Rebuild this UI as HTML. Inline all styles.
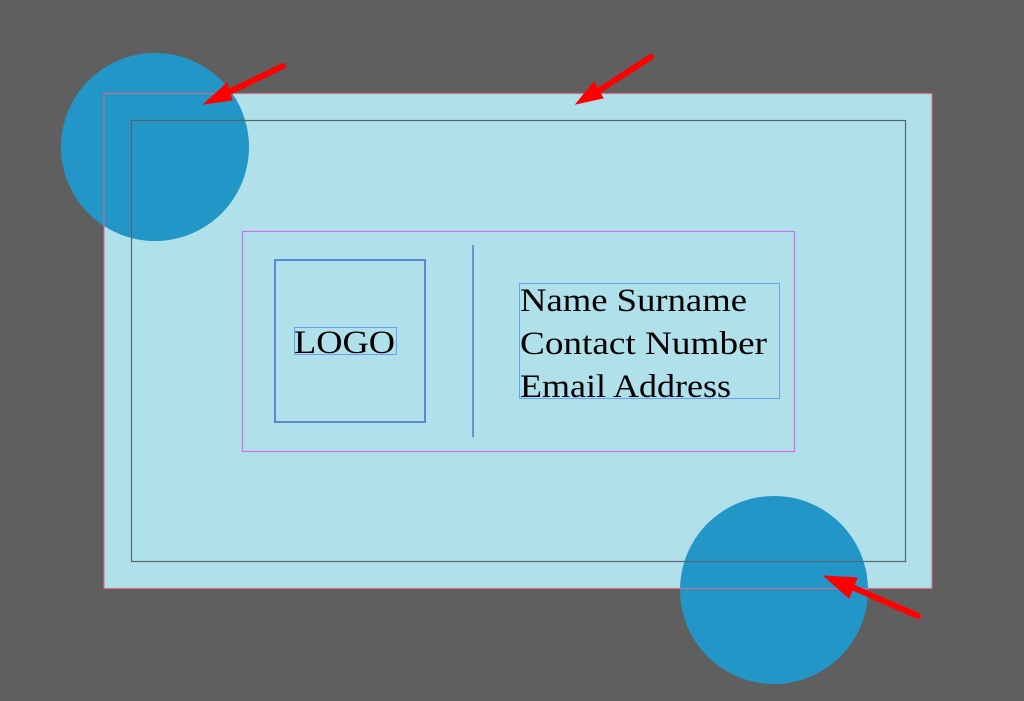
<!DOCTYPE html>
<html><head><meta charset="utf-8"><style>
html,body{margin:0;padding:0;background:#5f5f5f;}
svg{display:block}
text{font-family:"Liberation Serif",serif;fill:#000}
</style></head><body>
<svg width="1024" height="701" viewBox="0 0 1024 701" xmlns="http://www.w3.org/2000/svg">
<rect width="1024" height="701" fill="#5f5f5f"/>
<rect x="104" y="93.5" width="828" height="495" fill="#b0e0ea"/>
<circle cx="155" cy="147" r="94" fill="#2396c8"/>
<circle cx="774" cy="590" r="94" fill="#2396c8"/>
<rect x="104" y="93.5" width="828" height="495" fill="none" stroke="#d86a86" stroke-width="1.2" opacity="0.9"/>
<rect x="131.5" y="120.5" width="774" height="441" fill="none" stroke="#55666a" stroke-width="1.2"/>
<rect x="242.5" y="231.5" width="552" height="220" fill="none" stroke="#d070f0" stroke-width="1.2"/>
<rect x="275" y="260" width="150" height="162" fill="none" stroke="#5a88d8" stroke-width="2"/>
<rect x="294.5" y="327.5" width="102" height="27" fill="none" stroke="#66a0ff" stroke-width="1"/>
<text x="294" y="353" font-size="33" textLength="101" lengthAdjust="spacingAndGlyphs">LOGO</text>
<line x1="473" y1="245" x2="473" y2="437" stroke="#5a9ad0" stroke-width="2"/>
<rect x="519.5" y="283.5" width="260" height="115" fill="none" stroke="#66a0ff" stroke-width="1"/>
<text x="520" y="311" font-size="33" textLength="227" lengthAdjust="spacingAndGlyphs">Name Surname</text>
<text x="520" y="354" font-size="33" textLength="247" lengthAdjust="spacingAndGlyphs">Contact Number</text>
<text x="520" y="397" font-size="33" textLength="211" lengthAdjust="spacingAndGlyphs">Email Address</text>
<g fill="#ff0000" stroke="#ff0000" stroke-linecap="round">
<line x1="283" y1="66" x2="225" y2="94" stroke-width="6"/>
<polygon points="204,104 227,83 232,100"/>
<line x1="651" y1="57" x2="595" y2="93" stroke-width="6"/>
<polygon points="576,104 594,82 603,98"/>
<line x1="918" y1="616" x2="845" y2="584" stroke-width="6"/>
<polygon points="824,576 857,578 849,598"/>
</g>
</svg>
</body></html>
